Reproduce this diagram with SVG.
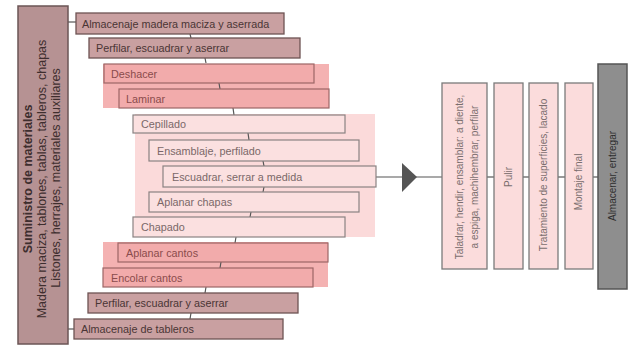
<svg xmlns="http://www.w3.org/2000/svg" width="637" height="349" viewBox="0 0 637 349">
<style>
text{font-family:"Liberation Sans",Arial,sans-serif;}
.lbl{font-size:10.8px;}
.dusty rect{fill:#c9a0a1;stroke:#6e5353;stroke-width:1.3;}
.dusty text{fill:#4a3535;}
.red rect{fill:#f2abab;stroke:#9c6666;stroke-width:1.2;}
.red text{fill:#8a4c4c;}
.light rect{fill:#fbe0e0;stroke:#8a8282;stroke-width:1.2;}
.light text{fill:#7a6868;}
.vbox rect{fill:#fbdcdc;stroke:#7a7a7a;stroke-width:1.3;}
.vbox text{fill:#7a6e6e;font-size:10px;text-anchor:middle;}
.conn line{stroke:#555;stroke-width:1.2;}
</style>
<rect width="637" height="349" fill="#ffffff"/>
<!-- highlight bands -->
<rect x="103" y="64" width="226" height="44" fill="#f4b2b2"/>
<rect x="135" y="114" width="240" height="123" fill="#fbdada"/>
<rect x="103" y="242" width="225" height="45" fill="#f4b2b2"/>

<g id="connectors" class="conn">
<line x1="68" y1="22" x2="76" y2="22"/>
<line x1="68" y1="329" x2="74" y2="329"/>
<line x1="190" y1="34" x2="191" y2="38"/>
<line x1="205" y1="58" x2="206" y2="63"/>
<line x1="219" y1="83" x2="220" y2="89"/>
<line x1="233" y1="108" x2="234" y2="115"/>
<line x1="248" y1="133" x2="249" y2="140"/>
<line x1="263" y1="161" x2="264" y2="166"/>
<line x1="264" y1="187" x2="263" y2="192"/>
<line x1="251" y1="212" x2="250" y2="217"/>
<line x1="236" y1="237" x2="235" y2="243"/>
<line x1="221" y1="262" x2="220" y2="268"/>
<line x1="206" y1="287" x2="205" y2="293"/>
<line x1="191" y1="313" x2="190" y2="319"/>
<line x1="376" y1="177" x2="442" y2="177"/>
<polygon points="402,163 417,177 402,192" fill="#555" stroke="none"/>
<line x1="487" y1="177" x2="494" y2="177"/>
<line x1="523" y1="177" x2="529" y2="177"/>
<line x1="558" y1="177" x2="565" y2="177"/>
<line x1="593" y1="177" x2="598" y2="177"/>
</g>

<g id="suministro">
<rect x="18" y="6" width="50" height="338" fill="#b69293" stroke="#6b5556" stroke-width="1.5"/>
<g fill="#3e2e2e" font-size="12.5px" text-anchor="middle">
<text transform="translate(31.5,179) rotate(-90)" font-weight="bold">Suministro de materiales</text>
<text transform="translate(46,179) rotate(-90)">Madera maciza, tablones, tablas, tableros, chapas</text>
<text transform="translate(59.5,178) rotate(-90)">Listones, herrajes, materiales auxiliares</text>
</g>
</g>

<g id="n1" class="dusty"><rect x="76" y="13" width="208" height="21"/><text class="lbl" x="82" y="27.5">Almacenaje madera maciza y aserrada</text></g>
<g id="n2" class="dusty"><rect x="89" y="38" width="211" height="20"/><text class="lbl" x="96" y="52">Perfilar, escuadrar y aserrar</text></g>
<g id="n3" class="red"><rect x="104" y="64" width="210" height="19"/><text class="lbl" x="111" y="77.5">Deshacer</text></g>
<g id="n4" class="red"><rect x="119" y="89" width="210" height="19"/><text class="lbl" x="126" y="102.5">Laminar</text></g>
<g id="n5" class="light"><rect x="133" y="115" width="212" height="18"/><text class="lbl" x="141" y="128">Cepillado</text></g>
<g id="n6" class="light"><rect x="149" y="140" width="210" height="21"/><text class="lbl" x="157" y="154.5">Ensamblaje, perfilado</text></g>
<g id="n7" class="light"><rect x="163" y="166" width="213" height="21"/><text class="lbl" x="172" y="180.5">Escuadrar, serrar a medida</text></g>
<g id="n8" class="light"><rect x="149" y="192" width="210" height="20"/><text class="lbl" x="157" y="206">Aplanar chapas</text></g>
<g id="n9" class="light"><rect x="133" y="217" width="212" height="20"/><text class="lbl" x="141" y="231">Chapado</text></g>
<g id="n10" class="red"><rect x="118" y="243" width="210" height="19"/><text class="lbl" x="126" y="256.5">Aplanar cantos</text></g>
<g id="n11" class="red"><rect x="103" y="268" width="210" height="19"/><text class="lbl" x="111" y="281.5">Encolar cantos</text></g>
<g id="n12" class="dusty"><rect x="88" y="293" width="210" height="20"/><text class="lbl" x="95" y="307">Perfilar, escuadrar y aserrar</text></g>
<g id="n13" class="dusty"><rect x="74" y="319" width="209" height="20"/><text class="lbl" x="81" y="333">Almacenaje de tableros</text></g>

<g id="r1" class="vbox"><rect x="442" y="83" width="45" height="186"/>
<text transform="translate(463,177) rotate(-90)">Taladrar, hendir, ensamblar: a diente,</text>
<text transform="translate(478,177) rotate(-90)">a espiga, machihembrar, perfilar</text></g>
<g id="r2" class="vbox"><rect x="494" y="83" width="29" height="186"/>
<text transform="translate(512,177) rotate(-90)">Pulir</text></g>
<g id="r3" class="vbox"><rect x="529" y="83" width="29" height="186"/>
<text transform="translate(547,175) rotate(-90)">Tratamiento de superficies, lacado</text></g>
<g id="r4" class="vbox"><rect x="565" y="83" width="28" height="186"/>
<text transform="translate(582,182) rotate(-90)">Montaje final</text></g>
<g id="r5"><rect x="598" y="64" width="29" height="225" fill="#8e8e8e" stroke="#555" stroke-width="1.5"/>
<text transform="translate(616,176) rotate(-90)" font-size="10px" fill="#2e2e2e" text-anchor="middle">Almacenar, entregar</text></g>
</svg>
